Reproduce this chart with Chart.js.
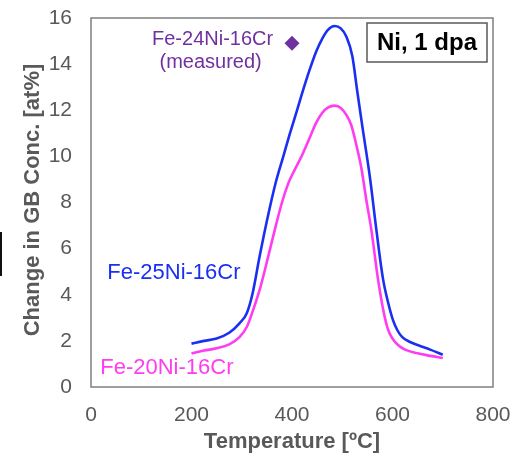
<!DOCTYPE html>
<html>
<head>
<meta charset="utf-8">
<script src="https://cdn.jsdelivr.net/npm/chart.js@4"></script>
<style>
  html, body { margin: 0; padding: 0; background: #fff; }
  #wrap { position: relative; width: 513px; height: 459px; }
  #edge { position: absolute; left: 0; top: 232px; width: 2px; height: 44px; background: #111; }
</style>
</head>
<body>
<div id="wrap">
  <canvas id="chart" width="513" height="459"></canvas>
  <div id="edge"></div>
</div>
<script>
const temps25 = [200, 225, 250, 275, 295, 310, 322, 335, 350, 368, 382, 395, 408, 421, 435, 448, 460, 472, 485, 497, 508, 520, 530, 540, 555, 568, 581, 592, 601, 610, 620, 635, 650, 675, 700]
const conc25 = [1.88, 2.0, 2.1, 2.35, 2.75, 3.2, 4.1, 5.6, 7.2, 8.9, 9.95, 10.93, 11.85, 12.8, 13.75, 14.54, 15.1, 15.5, 15.65, 15.55, 15.2, 14.35, 12.8, 11.3, 9.1, 6.8, 4.7, 3.6, 2.9, 2.45, 2.15, 1.95, 1.82, 1.62, 1.4]

const temps20 = [200, 225, 250, 275, 295, 310, 322, 338, 352, 365, 380, 393, 406, 420, 435, 448, 460, 472, 485, 497, 508, 518, 528, 538, 548, 558, 571, 582, 591, 600, 611, 625, 650, 675, 700]
const conc20 = [1.45, 1.58, 1.68, 1.85, 2.15, 2.6, 3.3, 4.4, 5.6, 6.75, 8.0, 8.85, 9.45, 10.05, 10.8, 11.45, 11.88, 12.12, 12.2, 12.1, 11.8, 11.35, 10.5, 9.5, 8.1, 6.8, 4.7, 3.3, 2.5, 2.1, 1.82, 1.62, 1.46, 1.35, 1.26]

const measuredT = [400]
const measuredC = [14.9]

const xTicks = [0, 200, 400, 600, 800]
const yTicks = [0, 2, 4, 6, 8, 10, 12, 14, 16]

const xTitle = 'Temperature [ºC]'
const yTitle = 'Change in GB Conc. [at%]'

const FONT = "'Liberation Sans', Arial, sans-serif"
const GREY = '#595959'

const toPoints = (xs, ys) => xs.map((x, i) => ({x, y: ys[i]}))

// frame around plot area, axis titles and text labels
const annotations = {
  id: 'annotations',
  afterDraw(chart) {
    const {ctx, chartArea: a, scales: {x, y}} = chart
    ctx.save()
    ctx.lineWidth = 1.5
    ctx.strokeStyle = '#7f7f7f'
    ctx.strokeRect(a.left, a.top, a.right - a.left, a.bottom - a.top)

    ctx.textAlign = 'center'
    ctx.textBaseline = 'middle'

    // axis titles
    ctx.fillStyle = GREY
    ctx.font = `bold 22px ${FONT}`
    ctx.fillText(xTitle, (a.left + a.right) / 2, 442)
    ctx.save()
    ctx.translate(33, 200)
    ctx.rotate(-Math.PI / 2)
    ctx.font = `bold 22px ${FONT}`
    ctx.fillText(yTitle, 0, 0)
    ctx.restore()

    ctx.font = `22px ${FONT}`
    ctx.fillStyle = '#1a2ff2'
    ctx.fillText('Fe-25Ni-16Cr', x.getPixelForValue(165), y.getPixelForValue(4.94))
    ctx.fillStyle = '#ff3cf2'
    ctx.fillText('Fe-20Ni-16Cr', x.getPixelForValue(151), y.getPixelForValue(0.82))

    ctx.font = `20px ${FONT}`
    ctx.fillStyle = '#7030a0'
    ctx.fillText('Fe-24Ni-16Cr', x.getPixelForValue(242), y.getPixelForValue(15.09))
    ctx.fillText('(measured)', x.getPixelForValue(238), y.getPixelForValue(14.09))

    // "Ni, 1 dpa" box
    ctx.lineWidth = 1.5
    ctx.strokeStyle = GREY
    ctx.strokeRect(367, 23, 120, 39)
    ctx.font = `bold 24px ${FONT}`
    ctx.fillStyle = '#000'
    ctx.fillText('Ni, 1 dpa', 427, 43)
    ctx.restore()
  }
}

new Chart(document.getElementById('chart'), {
  type: 'line',
  data: {
    datasets: [
      {
        label: 'Fe-25Ni-16Cr',
        data: toPoints(temps25, conc25),
        borderColor: '#1a2ff2',
        borderWidth: 2.6,
        pointRadius: 0,
        cubicInterpolationMode: 'monotone',
        fill: false
      },
      {
        label: 'Fe-20Ni-16Cr',
        data: toPoints(temps20, conc20),
        borderColor: '#ff3cf2',
        borderWidth: 2.6,
        pointRadius: 0,
        cubicInterpolationMode: 'monotone',
        fill: false
      },
      {
        label: 'Fe-24Ni-16Cr (measured)',
        data: toPoints(measuredT, measuredC),
        showLine: false,
        pointStyle: 'rectRot',
        pointRadius: 7.5,
        backgroundColor: '#7030a0',
        borderColor: '#7030a0',
        borderWidth: 0
      }
    ]
  },
  options: {
    responsive: false,
    animation: false,
    layout: {padding: {left: 0, top: 18, right: 20, bottom: 0}},
    plugins: {legend: {display: false}, tooltip: {enabled: false}},
    scales: {
      x: {
        type: 'linear',
        min: 0,
        max: 800,
        afterBuildTicks: s => { s.ticks = xTicks.map(v => ({value: v})) },
        afterFit: s => { s.height = 72; s.paddingLeft = 0; s.paddingRight = 0 },
        grid: {display: false, drawTicks: false},
        border: {display: false},
        ticks: {color: GREY, font: {family: FONT, size: 21}, padding: 16, maxRotation: 0}
      },
      y: {
        min: 0,
        max: 16,
        afterBuildTicks: s => { s.ticks = yTicks.map(v => ({value: v})) },
        afterFit: s => { s.width = 91; s.paddingTop = 0; s.paddingBottom = 0 },
        grid: {display: false, drawTicks: false},
        border: {display: false},
        ticks: {color: GREY, font: {family: FONT, size: 21}, padding: 19}
      }
    }
  },
  plugins: [annotations]
})
</script>
</body>
</html>
